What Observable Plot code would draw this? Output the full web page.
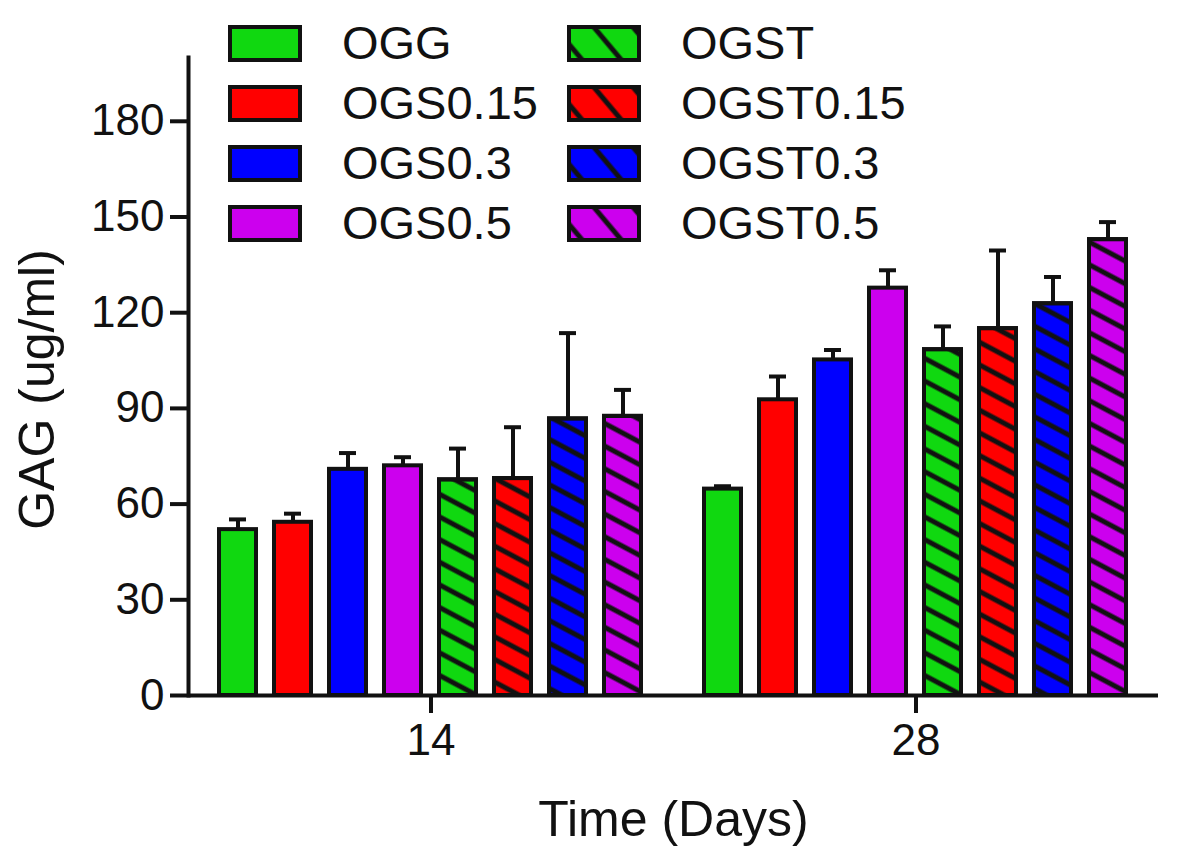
<!DOCTYPE html>
<html>
<head>
<meta charset="utf-8">
<script src="https://cdn.jsdelivr.net/npm/d3@7"></script>
<script src="https://cdn.jsdelivr.net/npm/@observablehq/plot@0.6"></script>
<style>
  body { margin: 0; background: #fff; }
  #wrap { position: relative; width: 1181px; height: 859px; font-family: "Liberation Sans", Arial, sans-serif; }
  #legend { position: absolute; left: 228px; top: 25px; display: grid; grid-template-columns: 339px 330px; grid-auto-rows: 60px; }
  .item { display: flex; align-items: flex-start; height: 60px; }
  .item svg { flex: none; }
  .item span { font-size: 47px; line-height: 35px; margin-left: 40px; color: #111; }
  g[aria-label="y-axis label"] text, g[aria-label="fx-axis label"] text { font-size: 50px; }
</style>
</head>
<body>
<div id="wrap"><div id="chart"></div><div id="legend"></div></div>
<script>
const days = ["14", "28"];
const groups = ["OGG", "OGS0.15", "OGS0.3", "OGS0.5", "OGST", "OGST0.15", "OGST0.3", "OGST0.5"];
const colors = ["#10d810", "#ff0000", "#0000ff", "#cc00ee", "#10d810", "#ff0000", "#0000ff", "#cc00ee"];
const hatched = [false, false, false, false, true, true, true, true];
const mean14 = [52.0, 54.3, 70.9, 72.0, 67.6, 68.0, 86.7, 87.5];
const err14 = [3.2, 2.7, 5.1, 2.7, 9.8, 16.1, 26.9, 8.3];
const mean28 = [64.7, 92.7, 105.2, 127.7, 108.4, 115.0, 122.8, 142.9];
const err28 = [0.9, 7.3, 3.1, 5.6, 7.3, 24.5, 8.4, 5.5];
const yTicks = [0, 30, 60, 90, 120, 150, 180];

const rows = [];
[[days[0], mean14, err14], [days[1], mean28, err28]].forEach(([day, m, e]) => {
  groups.forEach((g, i) => rows.push({day, group: g, mean: m[i], hi: m[i] + e[i], hatched: hatched[i]}));
});

const SW = 4;
const plot = Plot.plot({
  width: 1181,
  height: 859,
  marginLeft: 188,
  marginRight: 23,
  marginTop: 57,
  marginBottom: 164,
  style: {fontFamily: "Liberation Sans, Arial, sans-serif", fontSize: "44px", color: "#111", background: "transparent"},
  fx: {domain: days, padding: 0},
  x: {domain: groups, paddingInner: 0.32, paddingOuter: 0.52, axis: null},
  y: {domain: [0, 200]},
  color: {domain: groups, range: colors},
  marks: [
    Plot.barY(rows, {fx: "day", x: "group", y: "mean", fill: "group", stroke: "#111", strokeWidth: SW}),
    Plot.barY(rows.filter(d => d.hatched), {fx: "day", x: "group", y: "mean", fill: "url(#hatch)", stroke: "#111", strokeWidth: SW}),
    Plot.ruleX(rows, {fx: "day", x: "group", y1: "mean", y2: "hi", stroke: "#111", strokeWidth: SW}),
    Plot.tickY(rows, {fx: "day", x: "group", y: "hi", stroke: "#111", strokeWidth: SW, insetLeft: 10, insetRight: 10}),
    Plot.ruleY([0], {stroke: "#111", strokeWidth: SW}),
    Plot.frame({anchor: "left", facetAnchor: "left", stroke: "#111", strokeWidth: SW}),
    Plot.axisY({ticks: yTicks, tickSize: 18, tickPadding: 6, strokeWidth: SW, tickFormat: d => String(d),
      label: "GAG (ug/ml)", labelAnchor: "center", labelArrow: "none", labelOffset: 170}),
    Plot.axisFx({anchor: "bottom", tickSize: 18, tickPadding: 10, strokeWidth: SW,
      label: "Time (Days)", labelAnchor: "center", labelArrow: "none", labelOffset: 140})
  ]
});

// hatch pattern definition for the hatched bars
const ns = "http://www.w3.org/2000/svg";
const defs = document.createElementNS(ns, "defs");
defs.innerHTML = `<pattern id="hatch" patternUnits="userSpaceOnUse" width="40" height="20" patternTransform="rotate(28)">
  <line x1="-5" y1="10" x2="45" y2="10" stroke="#111" stroke-width="5"/></pattern>`;
plot.insertBefore(defs, plot.firstChild);

document.getElementById("chart").appendChild(plot);

// shift y label slightly down to match reference centering
const yl = plot.querySelector('g[aria-label="y-axis label"] text');
if (yl) yl.setAttribute("dx", "-13");

// legend
const legend = document.getElementById("legend");
const order = [0, 4, 1, 5, 2, 6, 3, 7];
order.forEach(i => {
  const div = document.createElement("div");
  div.className = "item";
  const pid = "lh" + i;
  div.innerHTML = `<svg width="74" height="37" viewBox="0 0 74 37">
    <defs><pattern id="${pid}" patternUnits="userSpaceOnUse" width="30" height="60" patternTransform="translate(12,0) rotate(-40)">
      <line x1="10" y1="-10" x2="10" y2="70" stroke="#111" stroke-width="5"/></pattern></defs>
    <rect x="2" y="2" width="70" height="33" fill="${colors[i]}" stroke="#111" stroke-width="4"/>
    ${hatched[i] ? `<rect x="2" y="2" width="70" height="33" fill="url(#${pid})" stroke="#111" stroke-width="4"/>` : ""}
  </svg><span>${groups[i]}</span>`;
  legend.appendChild(div);
});
</script>
</body>
</html>
